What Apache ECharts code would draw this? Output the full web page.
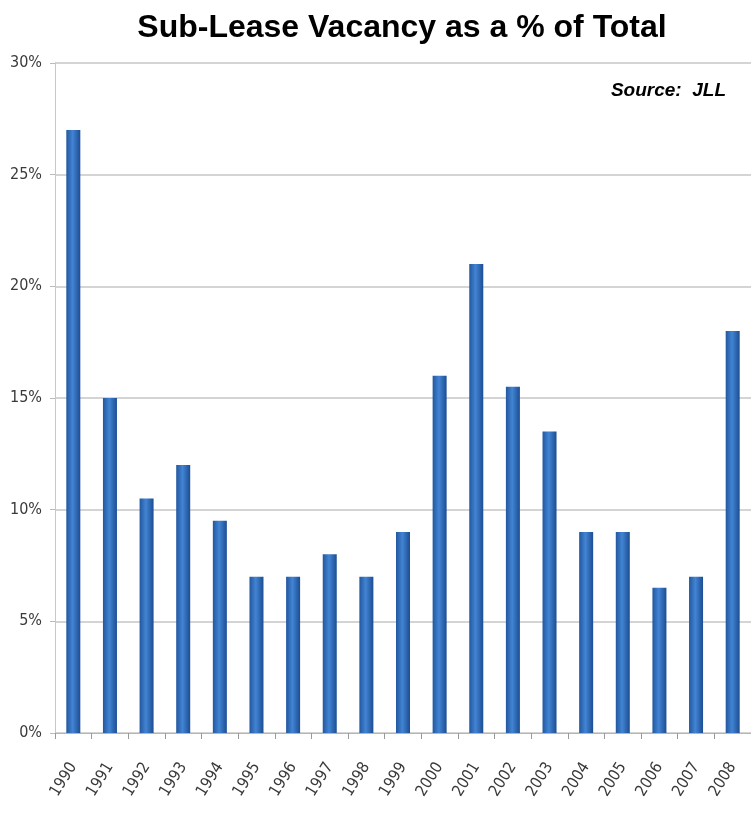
<!DOCTYPE html>
<html>
<head>
<meta charset="utf-8">
<script src="https://cdn.jsdelivr.net/npm/echarts@6/dist/echarts.min.js"></script>
<style>
  html, body { margin: 0; padding: 0; background: #fff; }
  #chart { width: 751px; height: 820px; }
</style>
</head>
<body>
<div id="chart"></div>
<script>
var years = ['1990', '1991', '1992', '1993', '1994', '1995', '1996', '1997', '1998', '1999',
    '2000', '2001', '2002', '2003', '2004', '2005', '2006', '2007', '2008']
// sub-lease vacancy, % of total
var subLease = [27, 15, 10.5, 12, 9.5, 7, 7, 8, 7, 9, 16, 21, 15.5, 13.5, 9, 9, 6.5, 7, 18]

var narrow = '"Liberation Sans Narrow", "DejaVu Sans Condensed", "Liberation Sans", sans-serif'

var chart = echarts.init(document.getElementById('chart'))

var barColor = new echarts.graphic.LinearGradient(0, 0, 1, 0, [
    { offset: 0, color: '#22579f' },
    { offset: 0.45, color: '#4284d3' },
    { offset: 1, color: '#1c4d93' }
])

var option = {
    backgroundColor: '#fff',
    title: [
        {
            text: 'Sub-Lease Vacancy as a % of Total',
            left: 397,
            textAlign: 'center',
            top: 7,
            textStyle: { fontFamily: 'Liberation Sans', fontWeight: 'bold', fontSize: 32, color: '#000' }
        },
        {
            text: 'Source:  JLL',
            right: 20,
            top: 76,
            textStyle: { fontFamily: 'Liberation Sans', fontWeight: 'bold', fontStyle: 'italic', fontSize: 19, color: '#000' }
        }
    ],
    grid: { left: 55, top: 63, width: 705, height: 670 },
    xAxis: {
        type: 'category',
        data: years,
        axisLine: { lineStyle: { color: '#b5b5b5' } },
        axisTick: { show: true, length: 6, lineStyle: { color: '#9a9a9a' } },
        axisLabel: {
            rotate: 58,
            margin: 31,
            fontFamily: narrow,
            fontSize: 16,
            color: '#3a3a3a'
        }
    },
    yAxis: {
        type: 'value',
        min: 0,
        max: 30,
        interval: 5,
        axisLine: { show: true, lineStyle: { color: '#c8c8c8' } },
        axisTick: { show: true, length: 5, lineStyle: { color: '#bbb' } },
        splitLine: { lineStyle: { color: '#c6c6c6', width: 1.5 } },
        axisLabel: {
            formatter: '{value}%',
            margin: 13,
            fontFamily: narrow,
            fontSize: 16,
            color: '#3a3a3a'
        }
    },
    series: [
        {
            type: 'bar',
            data: subLease,
            barWidth: 14,
            itemStyle: { color: barColor },
            silent: true
        }
    ]
}

chart.setOption(option)
</script>
</body>
</html>
